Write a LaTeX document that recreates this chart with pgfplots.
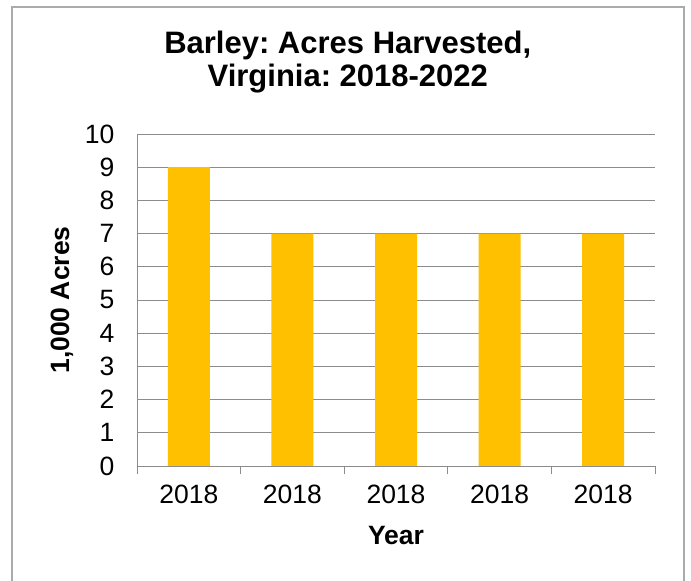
\documentclass[border=0pt]{standalone}
\usepackage{fontspec}
\setmainfont{Liberation Sans}
\usepackage{pgfplots}
\pgfplotsset{compat=1.18}
\frenchspacing
\definecolor{barcol}{HTML}{FFC000}
\definecolor{gridcol}{HTML}{8C8C8C}
\definecolor{framecol}{HTML}{ABABAB}
\begin{document}
\begin{tikzpicture}
\useasboundingbox (0pt,0pt) rectangle (691pt,581pt);
\draw[line width=1.6pt, framecol] (12pt,0pt) -- (12pt,574pt) -- (684pt,574pt) -- (684pt,0pt);
\begin{axis}[
  at={(137pt,115pt)}, anchor=south west,
  width=518pt, height=332pt, scale only axis,
  /pgf/number format/assume math mode=true,
  xmin=-0.5, xmax=4.5, ymin=0, ymax=10,
  axis x line*=bottom, axis y line*=left,
  axis line style={gridcol, line width=0.9pt},
  ytick={0,1,...,10},
  ymajorgrids, grid style={gridcol, line width=0.9pt},
  xtick={0,1,2,3,4},
  xticklabels={2018,2018,2018,2018,2018},
  major tick length=0pt,
  extra x ticks={-0.5,0.5,1.5,2.5,3.5,4.5},
  extra x tick labels={},
  extra x tick style={major tick length=8pt, tick align=outside, tick style={gridcol, line width=0.9pt}, grid=none},
  tick label style={font=\fontsize{26.5}{30}\selectfont},
  xticklabel style={yshift=-15pt},
  yticklabel style={xshift=-19pt},
  ylabel={1,000 Acres},
  xlabel={Year},
  label style={font=\bfseries\fontsize{26.5}{30}\selectfont},
  ylabel style={at={(axis description cs:-0.145,0.5)}, anchor=center, rotate=0},
  xlabel style={at={(axis description cs:0.5,-0.208)}, anchor=center},
  title={Barley: Acres Harvested,\\Virginia: 2018-2022},
  title style={at={(axis description cs:0.407,1.2)}, anchor=center, align=center, font=\bfseries\fontsize{31}{33}\selectfont},
]
\addplot[ybar, bar width=42pt, fill=barcol, draw=none] coordinates {(0,9) (1,7) (2,7) (3,7) (4,7)};
\end{axis}
\end{tikzpicture}
\end{document}
